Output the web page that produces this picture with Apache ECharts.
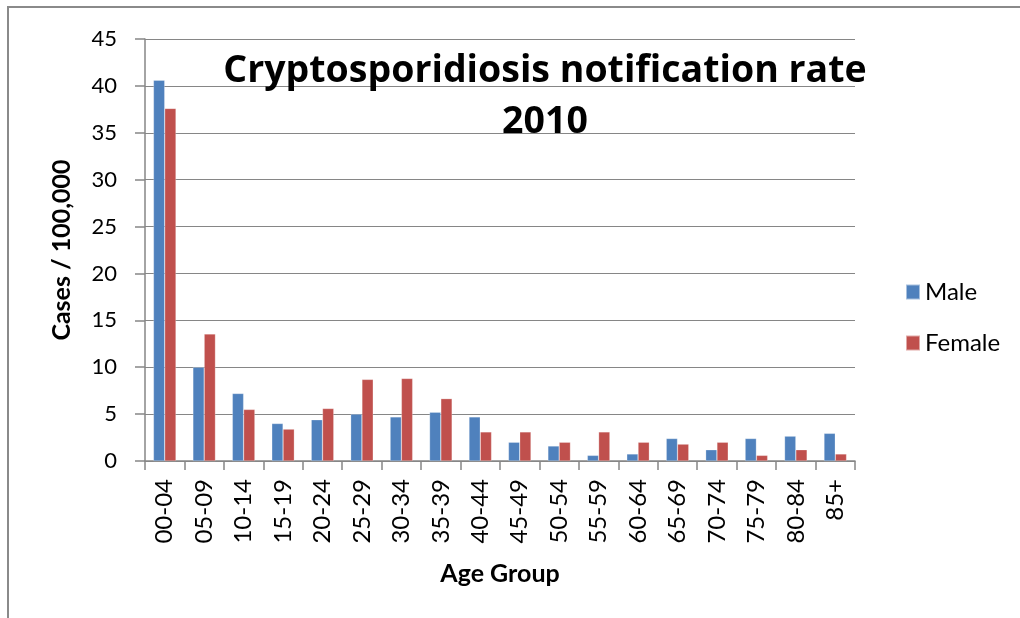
<!DOCTYPE html>
<html><head><meta charset="utf-8">
<script src="https://cdn.jsdelivr.net/npm/echarts@6/dist/echarts.min.js"></script>
<style>html,body{margin:0;padding:0;background:#fff}#c{width:1020px;height:618px}</style>
</head><body><div id="c"></div>
<script>
const categories = ['00-04','05-09','10-14','15-19','20-24','25-29','30-34','35-39','40-44','45-49','50-54','55-59','60-64','65-69','70-74','75-79','80-84','85+'];
const male   = [40.6,10.0,7.2,4.0,4.4,5.0,4.7,5.2,4.7,2.0,1.6,0.6,0.75,2.4,1.2,2.4,2.65,2.95];
const female = [37.6,13.55,5.5,3.4,5.6,8.7,8.8,6.65,3.1,3.1,2.0,3.1,2.0,1.8,2.0,0.6,1.2,0.75];
const yTicks = {min:0, max:45, interval:5};

const F = 'Lato, "Open Sans", sans-serif';
const chart = echarts.init(document.getElementById('c'));
chart.setOption({
  animation:false,
  backgroundColor:'#fff',
  graphic:[{type:'rect', shape:{x:8,y:7,width:1200,height:800}, style:{fill:'none', stroke:'#8a8a8a', lineWidth:2}, z:-1}],
  title:{text:'Cryptosporidiosis notification rate\n2010', left:540, top:41, textAlign:'center',
    textStyle:{fontFamily:'"Open Sans", Lato, sans-serif', fontWeight:'bold', fontSize:37.5, lineHeight:51, color:'#000'}},
  legend:{orient:'vertical', left:900, top:275, itemWidth:14, itemHeight:15, itemGap:27,
    icon:'rect', textStyle:{fontFamily:F, fontSize:24, color:'#000'}, data:['Male','Female']},
  grid:{left:145, right:165, top:39, bottom:157},
  xAxis:{type:'category', data:categories, name:'Age Group', nameLocation:'middle', nameGap:100,
    nameTextStyle:{fontFamily:F, fontWeight:'bold', fontSize:25, color:'#000'},
    axisLine:{lineStyle:{color:'#868686', width:1.5}},
    axisTick:{show:true, length:9, alignWithLabel:false, lineStyle:{color:'#868686', width:1.5}},
    axisLabel:{rotate:90, fontFamily:F, fontSize:24, color:'#000', margin:18}},
  yAxis:{type:'value', min:yTicks.min, max:yTicks.max, interval:yTicks.interval,
    name:'Cases / 100,000', nameLocation:'middle', nameGap:71,
    nameTextStyle:{fontFamily:F, fontWeight:'bold', fontSize:25, color:'#000'},
    axisLine:{show:true, lineStyle:{color:'#868686', width:1.5}},
    axisTick:{show:true, length:10, lineStyle:{color:'#868686', width:1.5}},
    splitLine:{lineStyle:{color:'#868686', width:1.2}},
    axisLabel:{fontFamily:F, fontSize:22, color:'#000', margin:28}},
  series:[
    {name:'Male', type:'bar', data:male, barGap:'0%', barCategoryGap:'42.86%',
     itemStyle:{color:'#4F81BD', borderColor:'rgba(255,255,255,0.5)', borderWidth:0.5}},
    {name:'Female', type:'bar', data:female, barGap:'0%', barCategoryGap:'42.86%',
     itemStyle:{color:'#C0504D', borderColor:'rgba(255,255,255,0.5)', borderWidth:0.5}}
  ]
});
</script></body></html>
